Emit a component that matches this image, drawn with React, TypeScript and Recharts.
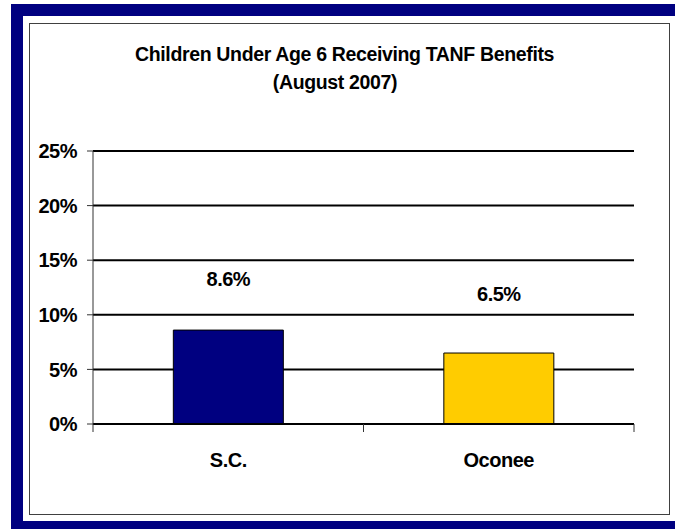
import React from "react";
import { BarChart, Bar, XAxis, YAxis, CartesianGrid, Cell, LabelList } from "recharts";

const categories = ["S.C.", "Oconee"];
const values = [8.6, 6.5];
const barColors = ["#000080", "#FFCC00"];
const yTicks = [0, 5, 10, 15, 20, 25];
const titleLines = ["Children Under Age 6 Receiving TANF Benefits", "(August 2007)"];

const data = categories.map((name, i) => ({ name, value: values[i] }));

const FONT = '"Liberation Sans", Arial, Helvetica, sans-serif';

const CHART_W = 675;
const CHART_H = 529;
const MARGIN = { top: 151, right: 41, bottom: 55, left: 31 };
const Y_AXIS_W = 62;
const PLOT_W = CHART_W - MARGIN.left - MARGIN.right - Y_AXIS_W;
const BAND = PLOT_W / categories.length;

const textStyle = {
  fill: "#000",
  fontFamily: FONT,
  fontWeight: "bold" as const,
  fontSize: 20,
  letterSpacing: -0.5,
};

const renderValueLabel = (props: any) => {
  const { x, y, width, value, index } = props;
  const lift = [44, 52][index] ?? 44;
  return (
    <text x={x + width / 2} y={y - lift} textAnchor="middle" {...textStyle}>
      {Number(value).toFixed(1)}%
    </text>
  );
};

const CategoryTick = (props: any) => {
  const { x, y, payload, index } = props;
  const half = BAND / 2;
  const isLast = index === categories.length - 1;
  return (
    <g>
      <line x1={x - half} x2={x - half} y1={y} y2={y + 8} stroke="#333" strokeWidth={1} />
      {isLast && (
        <line x1={x + half} x2={x + half} y1={y} y2={y + 8} stroke="#333" strokeWidth={1} />
      )}
      <text x={x} y={y + 43} textAnchor="middle" {...textStyle}>
        {payload.value}
      </text>
    </g>
  );
};

export default function App() {
  return (
    <div
      style={{
        position: "absolute",
        left: 0,
        top: 0,
        width: CHART_W,
        height: CHART_H,
        overflow: "hidden",
        background: "#fff",
      }}
    >
      <div
        style={{
          position: "absolute",
          left: 11,
          top: 4,
          width: 700,
          height: 505,
          border: "12px solid #000080",
          background: "#fff",
        }}
      />
      <div
        style={{
          position: "absolute",
          left: 29,
          top: 23,
          width: 639,
          height: 490,
          border: "1px solid #404040",
          background: "#fff",
        }}
      />
      <div
        style={{
          position: "absolute",
          left: 135,
          top: 40,
          width: 400,
          textAlign: "center",
          fontFamily: FONT,
          fontWeight: "bold",
          fontSize: 19.5,
          lineHeight: "28px",
          letterSpacing: -0.35,
          color: "#000",
          whiteSpace: "nowrap",
        }}
      >
        {titleLines.map((t) => (
          <div key={t}>{t}</div>
        ))}
      </div>
      <div style={{ position: "absolute", left: 0, top: 0 }}>
        <BarChart
          width={CHART_W}
          height={CHART_H}
          data={data}
          margin={MARGIN}
          barCategoryGap="29.7%"
        >
          <CartesianGrid vertical={false} stroke="#000" strokeWidth={2} />
          <XAxis
            dataKey="name"
            height={50}
            interval={0}
            axisLine={{ stroke: "#000", strokeWidth: 2 }}
            tickLine={false}
            tickSize={0}
            tickMargin={0}
            tick={<CategoryTick />}
          />
          <YAxis
            width={Y_AXIS_W}
            domain={[0, 25]}
            ticks={yTicks}
            interval={0}
            tickFormatter={(v: number) => `${v}%`}
            axisLine={{ stroke: "#333", strokeWidth: 1 }}
            tickLine={{ stroke: "#333", strokeWidth: 1 }}
            tickSize={6}
            tickMargin={10}
            tick={textStyle}
          />
          <Bar dataKey="value" stroke="#000" strokeWidth={1} isAnimationActive={false}>
            {data.map((d, i) => (
              <Cell key={d.name} fill={barColors[i]} />
            ))}
            <LabelList dataKey="value" content={renderValueLabel} />
          </Bar>
        </BarChart>
      </div>
    </div>
  );
}
